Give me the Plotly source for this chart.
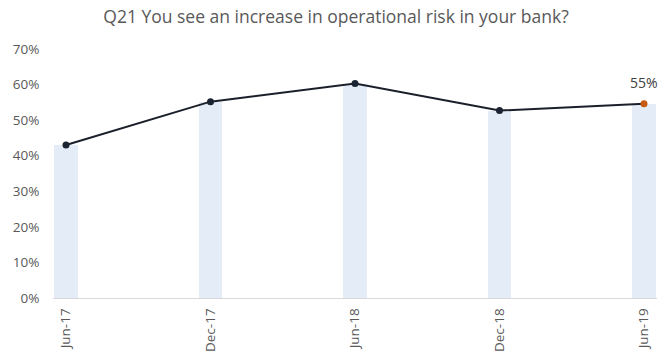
import plotly.graph_objects as go

categories = ["Jun-17", "Dec-17", "Jun-18", "Dec-18", "Jun-19"]
values = [0.43, 0.552, 0.603, 0.527, 0.546]
last_label = "55%"
title_text = "Q21 You see an increase in operational risk in your bank?"

font_family = "Open Sans, Liberation Sans, sans-serif"
marker_colors = ["#1b2433"] * (len(values) - 1) + ["#c55a11"]

fig = go.Figure()
fig.add_trace(go.Bar(
    x=categories, y=values, width=0.165,
    marker=dict(color="#e3ecf7", line=dict(width=0)),
    hoverinfo="skip", showlegend=False,
))
fig.add_trace(go.Scatter(
    x=categories, y=values, mode="lines+markers",
    line=dict(color="#1b1f2a", width=2),
    marker=dict(color=marker_colors, size=7),
    showlegend=False, cliponaxis=False,
))
fig.add_annotation(
    x=categories[-1], y=values[-1], text=last_label, showarrow=False,
    yshift=21, font=dict(family=font_family, size=14, color="#404040"),
)

fig.update_layout(
    width=659, height=354,
    margin=dict(l=53, r=2, t=49, b=56),
    paper_bgcolor="white", plot_bgcolor="white",
    title=dict(text=title_text, x=336 / 659, xanchor="center", y=1 - 17 / 354, yanchor="middle",
               font=dict(family=font_family, size=17.5, color="#595959")),
    font=dict(family=font_family, color="#595959"),
    xaxis=dict(range=[-0.09, 4.09], tickangle=-90, showgrid=False,
               showline=True, linecolor="#d9d9d9", linewidth=1,
               tickfont=dict(size=13.5, color="#595959"), ticks="outside",
               ticklen=4, tickcolor="rgba(0,0,0,0)"),
    yaxis=dict(range=[0, 0.7], dtick=0.1, tickformat=".0%", showgrid=False,
               zeroline=False, showline=False,
               tickfont=dict(size=13.5, color="#595959"), ticks="outside",
               ticklen=10, tickcolor="rgba(0,0,0,0)"),
    bargap=0,
)

fig.write_html("out.html", config={"displayModeBar": False},
               post_script="document.body.style.margin='0';")
